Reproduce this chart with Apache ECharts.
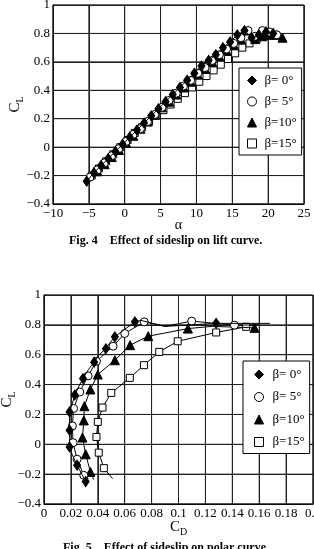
<!DOCTYPE html>
<html><head><meta charset="utf-8">
<script src="https://cdn.jsdelivr.net/npm/echarts@6/dist/echarts.min.js"></script>
<style>html,body{margin:0;padding:0;background:#fff}#c{width:314px;height:549px}</style>
</head><body><div id="c"></div>
<script>
// ---- Fig. 4 lift curve data (alpha in deg, CL) ----
const seriesNames = ['β= 0°', 'β= 5°', 'β=10°', 'β=15°'];
const alpha0 = [-5.3,-4.3,-3.3,-2.3,-1.3,-0.3,0.7,1.7,2.7,3.7,4.7,5.7,6.7,7.7,8.7,9.7,10.7,11.7,12.7,13.7,14.7,15.7,16.7,17.7,18.7,19.7,20.7];
const cl0    = [-0.24,-0.18,-0.13,-0.08,-0.03,0.02,0.07,0.12,0.17,0.22,0.27,0.32,0.37,0.42,0.47,0.52,0.57,0.61,0.65,0.70,0.74,0.79,0.82,0.77,0.79,0.81,0.80];
const alpha5 = [-4.8,-3.8,-2.8,-1.8,-0.8,0.2,1.2,2.2,3.2,4.2,5.2,6.2,7.2,8.2,9.2,10.2,11.2,12.2,13.2,14.2,15.2,16.2,17.2,18.2,19.2,20.2,21.2];
const cl5    = [-0.21,-0.16,-0.11,-0.06,-0.01,0.04,0.09,0.13,0.18,0.23,0.28,0.33,0.38,0.43,0.47,0.52,0.56,0.61,0.65,0.69,0.73,0.77,0.82,0.78,0.82,0.81,0.79];
const alpha10 = [-3.8,-2.8,-1.8,-0.8,0.2,1.2,2.2,3.2,4.2,5.2,6.2,7.2,8.2,9.2,10.2,11.2,12.2,13.2,14.2,15.2,16.2,17.2,18.2,19.2,20.2,21.2,22.0];
const cl10    = [-0.17,-0.12,-0.07,-0.02,0.03,0.08,0.13,0.18,0.23,0.28,0.32,0.37,0.42,0.46,0.51,0.55,0.60,0.64,0.68,0.72,0.76,0.82,0.76,0.78,0.79,0.79,0.77];
const alpha15 = [-4.6,-3.6,-2.6,-1.6,-0.6,0.4,1.4,2.4,3.4,4.4,5.4,6.4,7.4,8.4,9.4,10.4,11.4,12.4,13.4,14.4,15.4,16.4,17.4,18.4,19.4,20.4];
const cl15    = [-0.20,-0.15,-0.10,-0.05,0.00,0.05,0.10,0.14,0.18,0.22,0.26,0.30,0.34,0.38,0.42,0.46,0.50,0.54,0.58,0.62,0.66,0.70,0.73,0.76,0.78,0.79];

// ---- Fig. 5 polar curve data (CD, CL, marker shown 1/0) ----
const cdp0 = [0.031,0.0246,0.021,0.019,0.019,0.019,0.019,0.019,0.021,0.0229,0.026,0.029,0.033,0.0373,0.041,0.046,0.049,0.0527,0.060,0.0676,0.072,0.090,0.110,0.128,0.141,0.168];
const clp0 = [-0.25,-0.14,-0.07,-0.018,0.04,0.094,0.15,0.217,0.27,0.33,0.39,0.44,0.50,0.55,0.60,0.64,0.68,0.72,0.77,0.82,0.83,0.79,0.80,0.81,0.81,0.81];
const mkp0 = [1,1,0,1,0,1,0,1,0,1,0,1,0,1,0,1,0,1,0,1,0,0,0,1,0,0];
const cdp5 = [0.033,0.0296,0.0246,0.0216,0.0211,0.022,0.0266,0.0328,0.039,0.0514,0.060,0.0745,0.090,0.1098,0.1416,0.160];
const clp5 = [-0.23,-0.208,-0.10,0.011,0.123,0.24,0.35,0.458,0.556,0.657,0.742,0.82,0.79,0.825,0.798,0.80];
const mkp5 = [0,1,1,1,1,1,1,1,1,1,1,1,0,1,1,0];
const cdp10 = [0.037,0.0345,0.031,0.0286,0.0296,0.030,0.0345,0.040,0.0527,0.064,0.0775,0.107,0.125,0.1565];
const clp10 = [-0.237,-0.185,-0.067,0.045,0.16,0.255,0.367,0.467,0.563,0.664,0.724,0.775,0.79,0.78];
const mkp10 = [0,1,1,1,1,1,1,1,1,1,1,1,0,1];
const cdp15 = [0.051,0.0445,0.0407,0.039,0.040,0.0435,0.050,0.0638,0.0743,0.0857,0.0994,0.128,0.1503];
const clp15 = [-0.23,-0.16,-0.056,0.049,0.15,0.246,0.344,0.445,0.53,0.619,0.69,0.749,0.787];
const mkp15 = [0,1,1,1,1,1,1,1,1,1,1,1,1];

// tick settings and tick values (grid lines)
const liftXTicks = {min:-10, max:25, interval:5};
const clTicks = {min:-0.4, max:1, interval:0.2};
const cdTicks = {min:0, max:0.2, interval:0.02};
const liftXTickVals = [-10,-5,0,5,10,15,20,25];
const clTickVals = [-0.4,-0.2,0,0.2,0.4,0.6,0.8,1];
const cdTickVals = [0,0.02,0.04,0.06,0.08,0.1,0.12,0.14,0.16,0.18,0.2];

const FONT = '"Liberation Serif","DejaVu Serif",serif';
const fmt = v => String(v).replace('-', '\u2212');

const styles = [
  {symbol:'diamond', size:[7,10], fill:'#000'},
  {symbol:'circle', size:8, fill:'#fff'},
  {symbol:'triangle', size:9, fill:'#000'},
  {symbol:'rect', size:7, fill:'#fff'}
];

// grid lines as simple two-point line series, positioned by the axes' own scales
function gridSeries(axisIdx, xv, yv, xr, yr) {
  const base = {type:'line', xAxisIndex:axisIdx, yAxisIndex:axisIdx, symbol:'none', silent:true,
    lineStyle:{color:'#222', width:1}, z:1, tooltip:{show:false}, emphasis:{disabled:true}};
  const out = [];
  xv.forEach(v => out.push(Object.assign({}, base, {data:[[v, yr.min],[v, yr.max]]})));
  yv.forEach(v => out.push(Object.assign({}, base, {data:[[xr.min, v],[xr.max, v]]})));
  return out;
}

function liftSeries(i, xs, ys) {
  const s = styles[i];
  return {
    name: seriesNames[i], type:'line', xAxisIndex:0, yAxisIndex:0,
    data: xs.map((x, k) => [x, ys[k]]),
    symbol: s.symbol, symbolSize: s.size, showAllSymbol:true,
    itemStyle:{color:s.fill, borderColor:'#000', borderWidth:1},
    lineStyle:{color:'#000', width:1}, z: 3 + (3 - i)
  };
}
function polarSeries(i, xs, ys, mk) {
  const s = styles[i];
  return {
    name: seriesNames[i], type:'line', xAxisIndex:1, yAxisIndex:1,
    data: xs.map((x, k) => mk[k] ? {value:[x, ys[k]]} : {value:[x, ys[k]], symbol:'none'}),
    symbol: s.symbol, symbolSize: s.size, showAllSymbol:true,
    itemStyle:{color:s.fill, borderColor:'#000', borderWidth:1},
    lineStyle:{color:'#000', width:1}, z: 3 + (3 - i)
  };
}

function legendData() {
  return seriesNames.map((n, i) => ({
    name: n, icon: styles[i].symbol,
    itemStyle:{color: styles[i].fill, borderColor:'#000', borderWidth:1}
  }));
}

function axisBase(extra) {
  return Object.assign({
    type:'value',
    axisLine:{show:true, onZero:false, lineStyle:{color:'#000', width:1}},
    axisTick:{show:false},
    splitLine:{show:true, lineStyle:{color:'#222', width:1}},
    axisLabel:{color:'#000', fontFamily:FONT, fontSize:13, formatter:fmt, margin:3},
    nameMoveOverlap:false
  }, extra);
}

const nameStyle = {fontFamily:FONT, fontSize:15, color:'#000',
  rich:{a:{fontFamily:FONT, fontSize:15, color:'#000'}, b:{fontFamily:FONT, fontSize:10, color:'#000', padding:[10,0,0,0]}}};

const chart = echarts.init(document.getElementById('c'));
chart.setOption({
  animation:false,
  title:[
    {text:'Fig. 4    Effect of sideslip on lift curve.', left:64, top:230,
     textStyle:{fontFamily:FONT, fontWeight:'bold', fontSize:12, color:'#000'}},
    {text:'Fig. 5    Effect of sideslip on polar curve.', left:58, top:537,
     textStyle:{fontFamily:FONT, fontWeight:'bold', fontSize:12, color:'#000'}}
  ],
  grid:[
    {left:53, top:5, width:251, height:199, containLabel:false, outerBoundsMode:'none', show:true, borderColor:'#000', borderWidth:1},
    {left:44, top:295, width:269, height:209, containLabel:false, outerBoundsMode:'none', show:true, borderColor:'#000', borderWidth:1}
  ],
  legend:[
    {data: legendData(), orient:'vertical', left:239, top:68, padding:[6,5,5,8],
     itemWidth:9, itemHeight:9, itemGap:8, borderColor:'#000', borderWidth:1, backgroundColor:'#fff',
     textStyle:{fontFamily:FONT, fontSize:13, color:'#000', padding:[0,0,0,3]}, selectedMode:false, z:10},
    {data: legendData(), orient:'vertical', left:243, top:361, padding:[7,5,5,11],
     itemWidth:9, itemHeight:9, itemGap:9.5, borderColor:'#000', borderWidth:1, backgroundColor:'#fff',
     textStyle:{fontFamily:FONT, fontSize:13, color:'#000', padding:[0,0,0,4]}, selectedMode:false, z:10}
  ],
  xAxis:[
    axisBase({gridIndex:0, min:liftXTicks.min, max:liftXTicks.max, interval:liftXTicks.interval,
      name:'α', nameLocation:'middle', nameGap:14, nameTextStyle:{fontFamily:FONT, fontSize:14, color:'#000'}}),
    axisBase({gridIndex:1, min:cdTicks.min, max:cdTicks.max, interval:cdTicks.interval,
      name:'{a|C}{b|D}', nameLocation:'middle', nameGap:13, nameTextStyle:nameStyle})
  ],
  yAxis:[
    axisBase({gridIndex:0, min:clTicks.min, max:clTicks.max, interval:clTicks.interval,
      name:'{a|C}{b|L}', nameLocation:'middle', nameGap:28, nameRotate:90, nameTextStyle:nameStyle}),
    axisBase({gridIndex:1, min:clTicks.min, max:clTicks.max, interval:clTicks.interval,
      name:'{a|C}{b|L}', nameLocation:'middle', nameGap:27, nameRotate:90, nameTextStyle:nameStyle})
  ],
  series: [].concat(
    gridSeries(0, liftXTickVals, clTickVals, liftXTicks, clTicks),
    gridSeries(1, cdTickVals, clTickVals, cdTicks, clTicks),
    [liftSeries(0, alpha0, cl0), liftSeries(1, alpha5, cl5), liftSeries(2, alpha10, cl10), liftSeries(3, alpha15, cl15),
     polarSeries(0, cdp0, clp0, mkp0), polarSeries(1, cdp5, clp5, mkp5), polarSeries(2, cdp10, clp10, mkp10), polarSeries(3, cdp15, clp15, mkp15)]
  )
});
</script></body></html>
